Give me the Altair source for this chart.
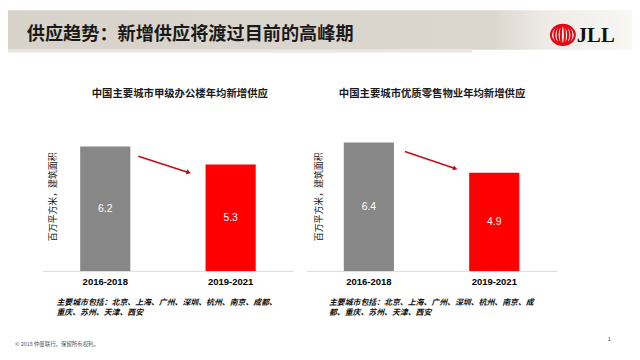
import altair as alt
import pandas as pd

# ---------------- data ----------------
periods = ["2016-2018", "2019-2021"]
office_supply = [6.2, 5.3]
retail_supply = [6.4, 4.9]
bar_colors = ["#878787", "#ff0000"]

main_title = "供应趋势：新增供应将渡过目前的高峰期"
office_title = "中国主要城市甲级办公楼年均新增供应"
retail_title = "中国主要城市优质零售物业年均新增供应"
y_title = "百万平方米，建筑面积"
office_note = ["主要城市包括：北京、上海、广州、深圳、杭州、南京、成都、", "重庆、苏州、天津、西安"]
retail_note = ["主要城市包括：北京、上海、广州、深圳、杭州、南京、成", "都、重庆、苏州、天津、西安"]
copyright_text = "© 2018 仲量联行。保留所有权利。"
page_no = "1"
logo_text = "JLL"

CJK = "Noto Sans CJK SC"
LAT = "Liberation Sans"

y_scale = alt.Scale(domain=[0, 13], nice=False, zero=True)
color_scale = alt.Scale(domain=periods, range=bar_colors)


def panel(values, rng):
    df = pd.DataFrame({"period": periods, "value": values})
    df["mid"] = df["value"] / 2
    xenc = alt.X(
        "period:N",
        sort=periods,
        scale=alt.Scale(range=rng, paddingInner=0.6, paddingOuter=0.3),
        axis=alt.Axis(
            orient="bottom", title=None, labelAngle=0, ticks=False, grid=False,
            domainColor="#d9d9d9", domainWidth=1, labelFont=LAT, labelFontSize=9.6,
            labelFontWeight="bold", labelColor="#000000", labelPadding=6,
        ),
    )
    bars = alt.Chart(df).mark_bar().encode(
        x=xenc,
        y=alt.Y("value:Q", scale=y_scale, axis=None),
        color=alt.Color("period:N", scale=color_scale, legend=None),
    )
    labels = alt.Chart(df).mark_text(
        color="white", font=LAT, fontSize=10.5, baseline="middle"
    ).encode(
        x=xenc,
        y=alt.Y("mid:Q", scale=y_scale, axis=None),
        text=alt.Text("value:Q", format=".1f"),
    )
    return alt.layer(bars, labels)


def txt(s, x, y, **kw):
    return alt.Chart(pd.DataFrame({"t": [s]})).mark_text(**kw).encode(
        x=alt.value(x), y=alt.value(y), text="t:N"
    )


def one():
    return alt.Chart(pd.DataFrame({"a": [0]}))


# background band
band = one().mark_rect(
    fill=alt.Gradient(
        gradient="linear", x1=0, x2=1, y1=0, y2=0,
        stops=[
            alt.GradientStop(color="#d8d3ca", offset=0),
            alt.GradientStop(color="#dcd7ce", offset=0.78),
            alt.GradientStop(color="#eeebe6", offset=0.86),
            alt.GradientStop(color="#f8f7f4", offset=1),
        ],
    )
).encode(x=alt.value(0), x2=alt.value(632), y=alt.value(0), y2=alt.value(40))
edge = one().mark_rect(color="#ebe8e3").encode(
    x=alt.value(0), x2=alt.value(470), y=alt.value(40), y2=alt.value(43)
)

title = txt(main_title, 19, 24, font=CJK, fontSize=18.4, fontWeight="bold",
            color="#1a1a1a", align="left", baseline="middle")

# logo
ell = lambda rx: f"M0,-0.8A{rx},0.8 0 1,1 0,0.8A{rx},0.8 0 1,1 0,-0.8Z"
logo_path = " ".join(ell(r) for r in [0.95, 0.68, 0.42, 0.16])
logo_oval = one().mark_point(
    shape=logo_path, filled=False, stroke="#e30613", strokeWidth=2.0, size=650, opacity=1
).encode(x=alt.value(562), y=alt.value(25))
logo_word = txt(logo_text, 576, 26, font="Liberation Serif", fontSize=21,
                fontWeight="bold", color="#111111", align="left", baseline="middle")

# chart titles
t1 = txt(office_title, 174, 85, font=CJK, fontSize=10.5, fontWeight="bold",
         color="#1a1a1a", align="center", baseline="middle")
t2 = txt(retail_title, 429.5, 85, font=CJK, fontSize=10.5, fontWeight="bold",
         color="#1a1a1a", align="center", baseline="middle")

# y axis titles
yt1 = txt(y_title, 46, 189, font=CJK, fontSize=9, angle=270, color="#111111",
          align="center", baseline="middle")
yt2 = txt(y_title, 315, 189, font=CJK, fontSize=9, angle=270, color="#111111",
          align="center", baseline="middle")

# arrows
ARROW = "#c00d1a"


def arrow(x0, y0, x1, y1, ang):
    line = one().mark_rule(color=ARROW, strokeWidth=1.6).encode(
        x=alt.value(x0), x2=alt.value(x1 - 3), y=alt.value(y0), y2=alt.value(y1 - 1)
    )
    head = one().mark_point(shape="triangle-right", filled=True, color=ARROW,
                            size=28, angle=ang, opacity=1).encode(
        x=alt.value(x1 - 2), y=alt.value(y1 - 0.6)
    )
    return [line, head]


# footnotes
notes = []
for i, line in enumerate(office_note):
    notes.append(txt(line, 49, 297 + 10 * i, font=CJK, fontSize=8, fontStyle="italic",
                     fontWeight="bold", color="#111111", align="left", baseline="middle"))
for i, line in enumerate(retail_note):
    notes.append(txt(line, 325, 297 + 10 * i, font=CJK, fontSize=8, fontStyle="italic",
                     fontWeight="bold", color="#111111", align="left", baseline="middle"))

copy = txt(copyright_text, 7, 338, font=CJK, fontSize=5.5, color="#555555",
           align="left", baseline="middle")
pg = txt(page_no, 609, 333, font=LAT, fontSize=6, color="#555555",
         align="center", baseline="middle")

left = panel(office_supply, [35, 289])
right = panel(retail_supply, [302, 556])

chart = alt.layer(
    band, edge, title, logo_oval, logo_word,
    left, right,
    t1, t2, yt1, yt2,
    *arrow(132, 148, 185, 165, 17.8),
    *arrow(402, 143, 455, 161, 18.8),
    *notes, copy, pg,
).resolve_scale(x="independent").resolve_axis(x="independent").properties(
    width=632, height=264,
    background="white",
    autosize=alt.AutoSizeParams(type="none"),
    padding={"left": 0, "top": 0, "right": 0, "bottom": 88},
).configure_view(stroke="transparent", strokeWidth=0)

chart.save("out.html", embed_options={"renderer": "svg", "actions": False})
